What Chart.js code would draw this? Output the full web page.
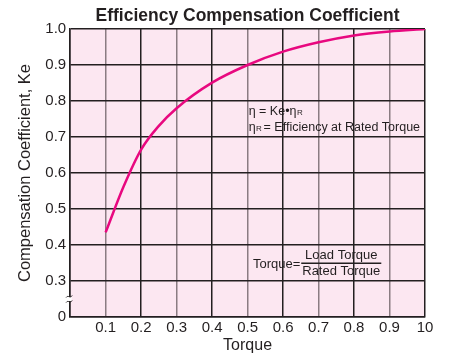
<!DOCTYPE html>
<html>
<head>
<meta charset="utf-8">
<script src="https://cdn.jsdelivr.net/npm/chart.js@4"></script>
<style>
  html, body { margin: 0; padding: 0; background: #fff; }
  #wrap { width: 449px; height: 358px; }
</style>
</head>
<body>
<div id="wrap"><canvas id="myChart" width="449" height="358"></canvas></div>
<script>
// torque ratio (load / rated) and the compensation coefficient Ke
const torque = [0.1, 0.15, 0.2, 0.25, 0.3, 0.4, 0.5, 0.6, 0.7, 0.8, 0.9, 1.0];
const ke = [0.435, 0.561, 0.665, 0.731, 0.78, 0.851, 0.9, 0.937, 0.963, 0.982, 0.993, 1.0];

// axis ticks (y axis is broken below 0.3, so the bottom tick reads "0")
const xTickValues = [0, 0.1, 0.2, 0.3, 0.4, 0.5, 0.6, 0.7, 0.8, 0.9, 1.0];
const xTickLabels = ["", "0.1", "0.2", "0.3", "0.4", "0.5", "0.6", "0.7", "0.8", "0.9", "10"];
const yTickValues = [0.2, 0.3, 0.4, 0.5, 0.6, 0.7, 0.8, 0.9, 1.0];
const yTickLabels = ["0", "0.3", "0.4", "0.5", "0.6", "0.7", "0.8", "0.9", "1.0"];

const TITLE = "Efficiency Compensation Coefficient";
const FONT = "Arial, 'Liberation Sans', Helvetica, sans-serif";
const INK = "#231f20";

// pink plot background, title, text notes and the axis break mark
const extras = {
  id: "extras",
  beforeDraw(chart) {
    const { ctx, chartArea: a } = chart;
    ctx.save();
    ctx.fillStyle = "#fce7f1";
    ctx.fillRect(a.left, a.top, a.right - a.left, a.bottom - a.top);
    ctx.restore();
  },
  afterDraw(chart) {
    const { ctx, scales, chartArea: a } = chart;
    const x = scales.x, y = scales.y;
    ctx.save();
    ctx.fillStyle = INK;
    ctx.textBaseline = "alphabetic";

    // title, slightly condensed like the original
    ctx.save();
    ctx.font = "bold 19px " + FONT;
    ctx.textAlign = "center";
    ctx.translate((a.left + a.right) / 2, 21);
    ctx.scale(0.92, 1);
    ctx.fillText(TITLE, 0, 0);
    ctx.restore();

    // eta = Ke * eta_R
    let px = x.getPixelForValue(0.503);
    let py = y.getPixelForValue(0.76);
    ctx.font = "12.5px " + FONT;
    ctx.fillText("\u03B7 = Ke\u2022\u03B7", px, py);
    let w = ctx.measureText("\u03B7 = Ke\u2022\u03B7").width;
    ctx.font = "8px " + FONT;
    ctx.fillText("R", px + w + 0.5, py);

    py = y.getPixelForValue(0.717);
    ctx.font = "12.5px " + FONT;
    ctx.fillText("\u03B7", px, py);
    w = ctx.measureText("\u03B7").width;
    ctx.font = "8px " + FONT;
    ctx.fillText("R", px + w + 0.5, py);
    ctx.font = "12.5px " + FONT;
    ctx.fillText("= Efficiency at Rated Torque", px + w + 8, py);

    // Torque = Load Torque / Rated Torque
    px = x.getPixelForValue(0.515);
    py = y.getPixelForValue(0.35);
    ctx.font = "13px " + FONT;
    ctx.fillText("Torque=", px, py + 5);
    const fx = px + ctx.measureText("Torque=").width + 1;
    const fw = ctx.measureText("Rated Torque").width + 2;
    ctx.textAlign = "center";
    ctx.fillText("Load Torque", fx + fw / 2, py - 4);
    ctx.fillText("Rated Torque", fx + fw / 2, py + 12);
    ctx.fillRect(fx, py - 0.5, fw, 1.5);

    // break symbol on the y axis
    const bx = x.left, by = y.getPixelForValue(0.25);
    ctx.fillStyle = "#fff";
    ctx.fillRect(bx - 1.5, by - 2, 3, 4);
    ctx.strokeStyle = INK;
    ctx.lineWidth = 1;
    for (const d of [-2.5, 2.5]) {
      ctx.beginPath();
      ctx.moveTo(bx - 4, by + d + 1);
      ctx.bezierCurveTo(bx - 2, by + d - 2, bx, by + d + 2.5, bx + 2, by + d - 1);
      ctx.stroke();
    }
    ctx.restore();
  }
};

const ctx = document.getElementById("myChart").getContext("2d");
const myChart = new Chart(ctx, {
  type: "line",
  data: {
    datasets: [
      {
        data: torque.map((t, i) => ({ x: t, y: ke[i] })),
        borderColor: "#e8087f",
        borderWidth: 2.5,
        pointRadius: 0,
        cubicInterpolationMode: "monotone",
        fill: false,
      },
    ],
  },
  options: {
    responsive: false,
    animation: false,
    layout: { padding: { top: 29, right: 24, bottom: 4, left: 16 } },
    plugins: {
      legend: { display: false },
      tooltip: { enabled: false },
      title: { display: false },
    },
    scales: {
      x: {
        type: "linear",
        min: 0,
        max: 1.0,
        afterBuildTicks: (axis) => { axis.ticks = xTickValues.map((v) => ({ value: v })); },
        ticks: {
          color: INK,
          font: { family: FONT, size: 15, lineHeight: 1 },
          padding: 3,
          maxRotation: 0,
          autoSkip: false,
          callback: (v, i) => xTickLabels[i],
        },
        grid: {
          drawTicks: false,
          lineWidth: 1.5,
          color: (c) => (c.index % 2 === 1 && c.index < 10 ? "#8a7c82" : INK),
        },
        border: { color: INK, width: 1.5 },
        title: {
          display: true,
          text: "Torque",
          color: INK,
          font: { family: FONT, size: 16, lineHeight: 1 },
          padding: { top: 0, bottom: 0 },
        },
      },
      y: {
        min: 0.2,
        max: 1.0,
        afterBuildTicks: (axis) => { axis.ticks = yTickValues.map((v) => ({ value: v })); },
        ticks: {
          color: INK,
          font: { family: FONT, size: 15 },
          padding: 4,
          autoSkip: false,
          callback: (v, i) => yTickLabels[i],
        },
        grid: { drawTicks: false, lineWidth: 1.5, color: INK },
        border: { color: INK, width: 1.5 },
        title: {
          display: true,
          text: "Compensation Coefficient, Ke",
          color: INK,
          font: { family: FONT, size: 16.5 },
          padding: { top: 0, bottom: 5.5 },
        },
      },
    },
  },
  plugins: [extras],
});
</script>
</body>
</html>
